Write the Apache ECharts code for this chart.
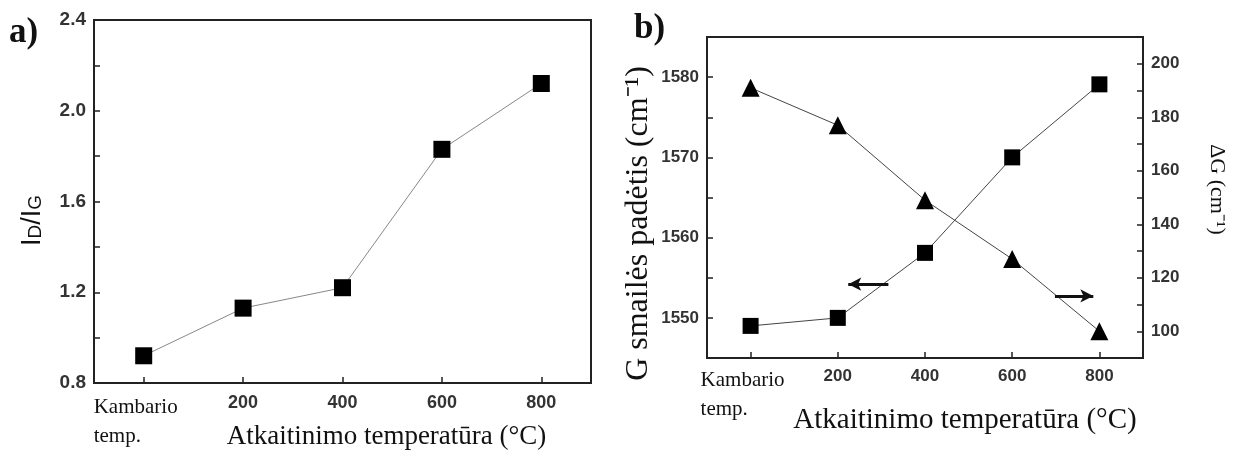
<!DOCTYPE html>
<html>
<head>
<meta charset="utf-8">
<script src="https://cdn.jsdelivr.net/npm/echarts@6/dist/echarts.min.js"></script>
<style>
html,body{margin:0;padding:0;background:#fff;}
#c{width:1238px;height:456px;}
</style>
</head>
<body>
<div id="c"></div>
<script>
// ---- data ----
const categories = ['Kambario temp.', '200', '400', '600', '800'];
const ratioIDIG = [0.92, 1.13, 1.22, 1.83, 2.12];
const gPeakPosition = [1549.0, 1550.0, 1558.1, 1570.0, 1579.1];
const deltaG = [191, 177, 149, 127, 100];
const ticksA = [0.8, 1.2, 1.6, 2.0, 2.4];
const ticksBLeft = [1550, 1560, 1570, 1580];
const ticksBRight = [100, 120, 140, 160, 180, 200];
// arrow annotations [fromIndex, toIndex, value] (index = category position)
const arrowLeft = [1.58, 1.12, 1554.2];
const arrowRight = [3.49, 3.93, 113.2];

const serif = 'Liberation Serif, Times New Roman, serif';
const sans = 'Liberation Sans, Arial, sans-serif';
function numStyle(size) {
  return {fontFamily: sans, fontWeight: 'bold', fontSize: size, color: '#333'};
}

function xLabel(v) {
  if (v === categories[0]) {
    const parts = v.split(' ');
    return '{k|' + parts[0] + '}\n{k|' + parts[1] + '}';
  }
  return '{n|' + v + '}';
}
function xRich(numSize) {
  return {
    k: {fontFamily: serif, fontSize: 21, color: '#111', width: 100, align: 'left', lineHeight: 29},
    n: Object.assign({lineHeight: 20}, numStyle(numSize))
  };
}

const chart = echarts.init(document.getElementById('c'), null, {renderer: 'canvas'});
const axisLineStyle = {show: true, onZero: false, lineStyle: {color: '#222', width: 2}};
const tickStyle = {show: true, inside: true, length: 6, lineStyle: {color: '#222', width: 1.5}};

chart.setOption({
  animation: false,
  backgroundColor: '#fff',
  grid: [
    {left: 94, top: 20, width: 497, height: 363, show: true, borderColor: '#222', borderWidth: 2, containLabel: false, outerBoundsMode: 'none'},
    {left: 707, top: 37, width: 436, height: 321, show: true, borderColor: '#222', borderWidth: 2, containLabel: false, outerBoundsMode: 'none'}
  ],
  graphic: [
    {type: 'text', left: 9, top: 15, style: {text: 'a)', font: 'bold 35px ' + serif, fill: '#111'}},
    {type: 'text', left: 634, top: 11, style: {text: 'b)', font: 'bold 35px ' + serif, fill: '#111'}}
  ],
  xAxis: [
    {
      type: 'category', gridIndex: 0, data: categories, boundaryGap: true,
      axisLine: axisLineStyle,
      axisTick: Object.assign({alignWithLabel: true, interval: 0}, tickStyle),
      axisLabel: {margin: 10, interval: 0, hideOverlap: false, formatter: xLabel, rich: xRich(18), verticalAlign: 'top'},
      name: 'Atkaitinimo temperatūra (°C)', nameLocation: 'middle', nameGap: 40, nameMoveOverlap: false,
      nameTextStyle: {fontFamily: serif, fontSize: 27, color: '#111', padding: [0, 0, 0, 88]}
    },
    {
      type: 'category', gridIndex: 1, data: categories, boundaryGap: true,
      axisLine: axisLineStyle,
      axisTick: Object.assign({alignWithLabel: true, interval: 0}, tickStyle),
      axisLabel: {margin: 8, interval: 0, hideOverlap: false, formatter: xLabel, rich: xRich(17), verticalAlign: 'top'},
      name: 'Atkaitinimo temperatūra (°C)', nameLocation: 'middle', nameGap: 48, nameMoveOverlap: false,
      nameTextStyle: {fontFamily: serif, fontSize: 29, color: '#111', padding: [0, 0, 0, 80]}
    },
    {
      // hidden positional axis used only to place the arrow annotations
      type: 'value', gridIndex: 1, min: -0.5, max: 4.5, show: false,
      axisLine: {show: false, onZero: false}
    }
  ],
  yAxis: [
    {
      type: 'value', gridIndex: 0, min: 0.8, max: 2.4, interval: 0.2,
      axisLine: axisLineStyle,
      splitLine: {show: false},
      axisTick: tickStyle,
      axisLabel: Object.assign({margin: 8, formatter: function (v) {
        return ticksA.some(t => Math.abs(t - v) < 1e-6) ? v.toFixed(1) : '';
      }}, numStyle(19)),
      name: '{i|I}{s|D}{i|/I}{s|G}', nameLocation: 'middle', nameGap: 48, nameMoveOverlap: false,
      nameTextStyle: {padding: [0, 38, 0, 0], rich: {
        i: {fontFamily: sans, fontSize: 27, color: '#111'},
        s: {fontFamily: sans, fontSize: 19, color: '#111', padding: [7, 0, 0, 0]}
      }}
    },
    {
      type: 'value', gridIndex: 1, min: 1545, max: 1585, interval: 5, position: 'left',
      axisLine: axisLineStyle,
      splitLine: {show: false},
      axisTick: tickStyle,
      axisLabel: Object.assign({margin: 8, formatter: function (v) {
        return ticksBLeft.indexOf(v) >= 0 ? String(v) : '';
      }}, numStyle(17)),
      name: 'G smailės padėtis (cm⁻¹)', nameLocation: 'middle', nameGap: 52, nameMoveOverlap: false,
      nameTextStyle: {fontFamily: serif, fontSize: 32, color: '#111', padding: [0, 52, 0, 0]}
    },
    {
      type: 'value', gridIndex: 1, min: 90, max: 210, interval: 10, position: 'right',
      axisLine: axisLineStyle,
      splitLine: {show: false},
      axisTick: tickStyle,
      axisLabel: Object.assign({margin: 8, formatter: function (v) {
        return ticksBRight.indexOf(v) >= 0 ? String(v) : '';
      }}, numStyle(17)),
      name: 'ΔG (cm⁻¹)', nameLocation: 'middle', nameGap: 63, nameRotate: -90, nameMoveOverlap: false,
      nameTextStyle: {fontFamily: serif, fontSize: 22, color: '#111', padding: [0, 16, 0, 0]}
    }
  ],
  series: [
    {
      type: 'line', xAxisIndex: 0, yAxisIndex: 0, data: ratioIDIG,
      symbol: 'rect', symbolSize: 17,
      itemStyle: {color: '#000'},
      lineStyle: {color: '#888', width: 1}
    },
    {
      type: 'line', xAxisIndex: 1, yAxisIndex: 1, data: gPeakPosition,
      symbol: 'rect', symbolSize: 16,
      itemStyle: {color: '#000'},
      lineStyle: {color: '#444', width: 1}
    },
    {
      type: 'line', xAxisIndex: 1, yAxisIndex: 2, data: deltaG,
      symbol: 'triangle', symbolSize: 18,
      itemStyle: {color: '#000'},
      lineStyle: {color: '#444', width: 1}
    },
    {
      type: 'line', xAxisIndex: 2, yAxisIndex: 1, data: [],
      markLine: {
        silent: true, symbol: ['none', 'arrow'], symbolSize: [10, 13],
        label: {show: false},
        lineStyle: {color: '#111', width: 3, type: 'solid'},
        data: [[{coord: [arrowLeft[0], arrowLeft[2]]}, {coord: [arrowLeft[1], arrowLeft[2]]}]]
      }
    },
    {
      type: 'line', xAxisIndex: 2, yAxisIndex: 2, data: [],
      markLine: {
        silent: true, symbol: ['none', 'arrow'], symbolSize: [10, 13],
        label: {show: false},
        lineStyle: {color: '#111', width: 3, type: 'solid'},
        data: [[{coord: [arrowRight[0], arrowRight[2]]}, {coord: [arrowRight[1], arrowRight[2]]}]]
      }
    }
  ]
});
</script>
</body>
</html>
